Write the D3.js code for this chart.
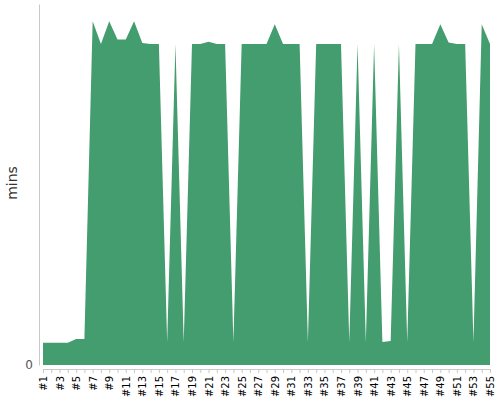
<!DOCTYPE html>
<html>
<head>
<meta charset="utf-8">
<script src="https://cdn.jsdelivr.net/npm/d3@7"></script>
<style>
  body { margin: 0; background: #fff; }
  text { font-family: "DejaVu Sans", sans-serif; }
</style>
</head>
<body>
<div id="chart"></div>
<script>
// categories (run numbers) and minutes per run
var runs = ["#1","#2","#3","#4","#5","#6","#7","#8","#9","#10","#11","#12","#13","#14","#15",
            "#16","#17","#18","#19","#20","#21","#22","#23","#24","#25","#26","#27","#28","#29","#30",
            "#31","#32","#33","#34","#35","#36","#37","#38","#39","#40","#41","#42","#43","#44","#45",
            "#46","#47","#48","#49","#50","#51","#52","#53","#54","#55"];

var mins = [0.97, 0.97, 0.97, 0.97, 1.13, 1.13, 15, 14, 15, 14.2, 14.2, 15, 14.05, 14, 14,
            1, 14, 1, 14, 14, 14.1, 14, 14, 1, 14, 14, 14, 14, 14.87, 14,
            14, 14, 1, 14, 14, 14, 14, 1, 14, 1, 14, 1, 1.05, 14, 1,
            14, 14, 14, 14.87, 14.07, 14, 14, 1, 14.87, 14];

var yTicks = [0];

var width = 500, height = 400;

var svg = d3.select("#chart")
    .append("svg")
    .attr("width", width)
    .attr("height", height);

// x scale: one point per run
var x = d3.scalePoint()
    .domain(runs)
    .range([43, 490]);

// y scale
var y = d3.scaleLinear()
    .domain([0, d3.max(mins) * 1.05])
    .range([365, 4]);

// the area
var area = d3.area()
    .x(function(d, i) { return x(runs[i]); })
    .y0(y(0))
    .y1(function(d) { return y(d); });

svg.append("path")
    .datum(mins)
    .attr("d", area)
    .style("fill", "#449d6e");

// y axis (offset a bit left)
var yAxis = svg.append("g")
    .attr("transform", "translate(39,0)")
    .call(d3.axisLeft(y).tickValues(yTicks).tickSize(0).tickPadding(6));
yAxis.select(".domain").attr("stroke", "#c8c8c8");
yAxis.selectAll("text")
    .style("font-size", "12px")
    .style("fill", "#555");

// x axis (offset a bit below)
var xAxis = svg.append("g")
    .attr("transform", "translate(0,369)")
    .call(d3.axisBottom(x).tickSize(4).tickSizeOuter(0));
xAxis.select(".domain").attr("stroke", "#c8c8c8");
xAxis.selectAll(".tick line").attr("stroke", "#c8c8c8");
xAxis.selectAll(".tick text")
    .style("display", function(d, i) { return i % 2 == 0 ? null : "none"; })
    .style("font-size", "10px")
    .style("fill", "#000")
    .attr("text-anchor", "end")
    .attr("transform", "rotate(-90)")
    .attr("x", -7)
    .attr("y", 0)
    .attr("dy", "0.35em");

// y axis title
svg.append("text")
    .attr("transform", "translate(17,183) rotate(-90)")
    .style("text-anchor", "middle")
    .style("font-size", "14px")
    .style("fill", "#333")
    .text("mins");
</script>
</body>
</html>
